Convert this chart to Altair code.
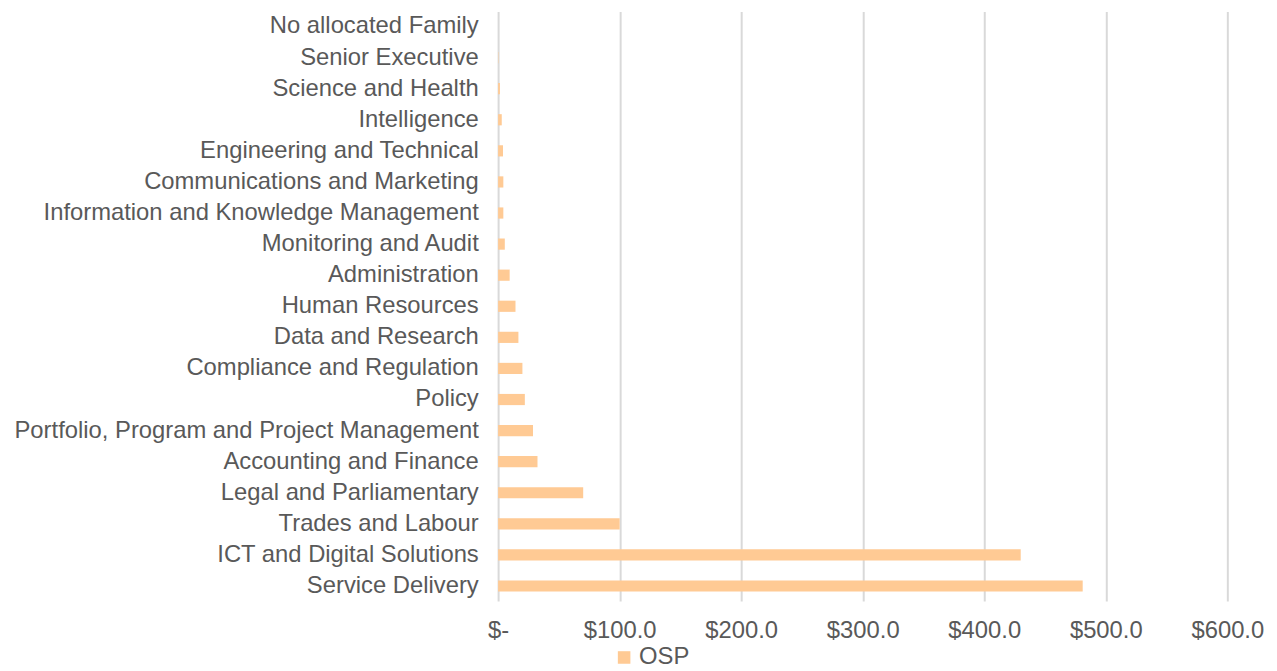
import altair as alt
import pandas as pd

categories = [
    "No allocated Family",
    "Senior Executive",
    "Science and Health",
    "Intelligence",
    "Engineering and Technical",
    "Communications and Marketing",
    "Information and Knowledge Management",
    "Monitoring and Audit",
    "Administration",
    "Human Resources",
    "Data and Research",
    "Compliance and Regulation",
    "Policy",
    "Portfolio, Program and Project Management",
    "Accounting and Finance",
    "Legal and Parliamentary",
    "Trades and Labour",
    "ICT and Digital Solutions\u00a0\u00a0",
    "Service Delivery",
]
values = [0.0, 0.3, 1.5, 3.0, 4.0, 4.3, 4.3, 5.5, 9.5, 14.3, 16.7, 20.0,
          22.0, 28.7, 32.4, 70.0, 100.0, 430.0, 481.0]
series = ["OSP"] * len(categories)

df = pd.DataFrame({"Family": categories, "Value": values, "Series": series})

FONT = "Liberation Sans"
TXT = "#595959"

chart = alt.Chart(df).mark_bar(color="#FFCA94").encode(
    y=alt.Y("Family:N", sort=categories, title=None,
            scale=alt.Scale(paddingInner=0.64, paddingOuter=0.3),
            axis=alt.Axis(domain=False, ticks=False, grid=False,
                          labelFont=FONT, labelFontSize=24, labelColor=TXT,
                          labelPadding=20, labelLimit=700)),
    x=alt.X("Value:Q", title=None,
            scale=alt.Scale(domain=[0, 600], nice=False),
            axis=alt.Axis(values=[0, 100, 200, 300, 400, 500, 600],
                          domain=False, ticks=False, grid=True,
                          gridColor="#D9D9D9", gridWidth=2,
                          labelFont=FONT, labelFontSize=24, labelColor=TXT,
                          labelPadding=18, labelFlush=False, labelOverlap=False,
                          labelExpr="datum.value == 0 ? '$-' : '$' + format(datum.value, '.1f')")),
    color=alt.Color("Series:N", scale=alt.Scale(range=["#FFCA94"]),
                    legend=alt.Legend(title=None, orient="none", legendX=115, legendY=639,
                                      symbolType="square", symbolSize=160,
                                      symbolStrokeWidth=0,
                                      labelFont=FONT, labelFontSize=24, labelColor=TXT,
                                      labelOffset=3)),
).properties(
    width=735, height=594,
    padding={"left": 5, "top": 1, "right": 5, "bottom": 0},
).configure_view(stroke=None)

chart.save("out.html", embed_options={"renderer": "svg", "actions": False})
